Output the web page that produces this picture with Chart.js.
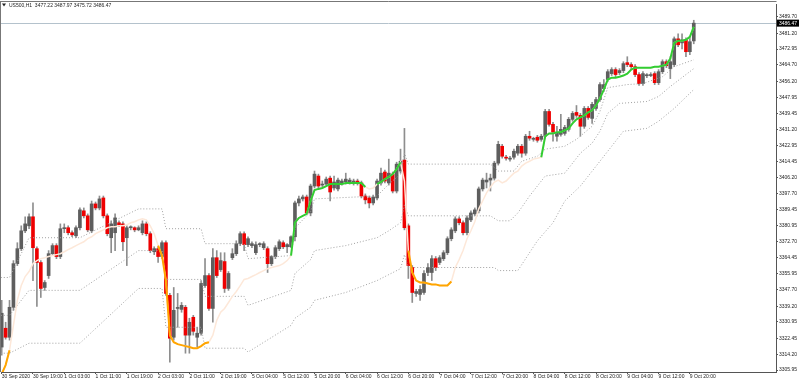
<!DOCTYPE html>
<html><head><meta charset="utf-8">
<script src="https://cdn.jsdelivr.net/npm/chart.js@4/dist/chart.umd.min.js"></script>
<style>html,body{margin:0;padding:0;background:#fff;}#wrap{width:800px;height:382px;position:relative;}canvas{display:block;}</style>
</head><body><div id="wrap"><canvas id="c" width="800" height="382"></canvas></div>
<script>
const symbolTitle = 'US500,H1';
const headerOHLC = ['3477.22', '3487.97', '3475.72', '3486.47'];
const bidPrice = 3486.47;
const timeLabels = ['30 Sep 2020','30 Sep 19:00','1 Oct 03:00','1 Oct 11:00','1 Oct 19:00','2 Oct 03:00','2 Oct 11:00','2 Oct 19:00','5 Oct 04:00','5 Oct 12:00','5 Oct 20:00','6 Oct 04:00','6 Oct 12:00','6 Oct 20:00','7 Oct 04:00','7 Oct 12:00','7 Oct 20:00','8 Oct 04:00','8 Oct 12:00','8 Oct 20:00','9 Oct 04:00','9 Oct 12:00','9 Oct 20:00'];
const barsPerLabel = 8;
const priceTicks = [3489.70,3481.20,3472.95,3464.70,3456.20,3447.95,3439.45,3431.20,3422.95,3414.45,3406.20,3397.70,3389.45,3380.95,3372.70,3364.45,3355.95,3347.70,3339.20,3330.95,3322.45,3314.20,3305.95];

const opens = [3317.9,3327.7,3323.0,3338.6,3361.3,3369.1,3378.4,3381.0,3385.7,3369.1,3361.9,3348.9,3355.1,3366.5,3370.7,3365.0,3379.5,3380.0,3377.4,3375.8,3380.0,3388.8,3386.2,3378.4,3392.4,3390.3,3395.5,3386.2,3374.8,3377.4,3382.6,3382.0,3374.8,3380.0,3380.0,3378.9,3377.4,3382.0,3376.9,3367.5,3369.1,3365.0,3372.2,3344.8,3323.0,3338.0,3337.5,3338.6,3324.1,3333.4,3323.0,3325.1,3349.9,3355.1,3338.0,3364.4,3358.2,3362.4,3348.4,3364.4,3366.5,3371.7,3376.9,3371.2,3370.7,3367.0,3371.2,3369.6,3369.1,3361.3,3365.0,3369.1,3372.2,3370.1,3370.1,3375.3,3392.9,3395.0,3396.0,3387.7,3401.7,3406.9,3402.2,3402.7,3405.8,3400.7,3400.2,3403.3,3403.8,3403.8,3403.3,3404.3,3403.3,3396.5,3395.5,3392.9,3395.5,3403.3,3409.0,3403.3,3407.9,3399.1,3409.5,3415.2,3381.0,3359.3,3345.8,3345.3,3346.3,3356.7,3356.7,3363.9,3361.9,3363.9,3367.0,3374.3,3378.4,3384.6,3382.6,3377.4,3384.1,3387.2,3388.8,3400.2,3403.8,3404.8,3405.8,3413.6,3422.4,3416.7,3415.7,3416.7,3418.8,3422.4,3418.8,3427.6,3426.0,3427.1,3426.0,3427.6,3440.5,3433.8,3427.6,3428.6,3429.1,3431.2,3436.4,3440.0,3438.5,3432.8,3442.1,3436.9,3442.1,3446.7,3452.4,3457.1,3460.2,3462.3,3460.7,3461.8,3465.9,3464.9,3463.8,3459.7,3455.0,3459.1,3459.2,3460.2,3455.5,3461.2,3466.4,3462.8,3464.9,3478.3,3476.2,3477.8,3471.6,3477.22];
const highs = [3342.2,3330.8,3342.2,3362.9,3372.2,3381.0,3385.7,3387.2,3392.9,3370.1,3362.9,3352.5,3368.1,3371.7,3371.7,3382.0,3382.0,3381.0,3378.4,3381.0,3390.3,3390.3,3387.2,3393.9,3393.4,3396.5,3396.5,3387.2,3383.6,3387.2,3383.6,3383.1,3381.0,3381.0,3380.5,3381.0,3383.6,3383.1,3377.9,3370.1,3370.1,3373.2,3373.2,3345.8,3348.9,3345.8,3341.1,3339.6,3332.9,3334.4,3328.2,3352.5,3363.9,3356.2,3369.1,3368.1,3367.0,3367.0,3357.2,3369.1,3373.2,3377.9,3377.9,3375.3,3372.7,3372.7,3372.2,3372.7,3370.1,3365.5,3370.7,3373.7,3373.2,3371.7,3375.8,3393.9,3396.5,3397.0,3397.0,3402.7,3409.5,3407.9,3404.3,3406.4,3406.9,3406.9,3405.8,3405.3,3408.4,3405.8,3405.3,3405.3,3404.3,3397.6,3396.5,3397.0,3405.3,3411.0,3410.0,3415.7,3409.0,3414.1,3420.9,3431.7,3382.0,3360.3,3347.9,3349.9,3357.7,3361.3,3365.5,3365.0,3365.5,3368.1,3375.3,3380.0,3385.7,3385.7,3383.6,3386.2,3388.8,3390.3,3401.2,3405.8,3408.4,3407.9,3414.6,3425.0,3423.4,3417.7,3417.2,3420.9,3423.4,3423.4,3428.6,3430.2,3427.1,3428.1,3428.6,3441.6,3441.6,3434.8,3432.8,3439.0,3433.3,3437.4,3440.5,3443.6,3439.5,3443.1,3443.1,3445.2,3447.8,3455.5,3457.1,3462.3,3463.3,3463.3,3462.8,3466.4,3469.0,3465.9,3464.9,3460.7,3461.2,3460.2,3460.7,3461.2,3462.3,3467.4,3467.4,3469.0,3479.3,3480.9,3480.9,3478.8,3479.3,3487.97];
const lows = [3313.7,3322.0,3321.5,3337.0,3360.3,3368.1,3377.4,3379.5,3352.5,3339.1,3343.7,3347.4,3353.6,3365.5,3363.9,3363.9,3377.4,3376.3,3375.3,3374.8,3378.9,3385.1,3377.9,3377.4,3389.3,3389.3,3385.1,3375.8,3367.0,3368.1,3380.5,3368.1,3360.3,3378.9,3377.9,3378.4,3376.3,3375.8,3367.0,3366.0,3361.9,3363.9,3344.8,3310.1,3321.5,3328.2,3336.0,3314.7,3314.7,3324.1,3317.9,3324.1,3348.9,3337.0,3330.8,3354.1,3357.2,3346.3,3347.4,3363.4,3365.5,3370.7,3368.1,3370.1,3369.6,3366.0,3370.1,3368.6,3356.7,3360.3,3363.9,3368.1,3369.1,3367.0,3369.6,3373.2,3391.4,3393.9,3386.7,3386.2,3400.7,3400.7,3401.2,3401.7,3393.9,3399.6,3399.1,3402.2,3402.7,3402.7,3402.2,3402.2,3395.5,3392.4,3390.3,3391.9,3394.5,3402.2,3403.3,3402.2,3398.1,3398.1,3408.4,3378.9,3353.6,3341.1,3344.3,3342.2,3345.3,3355.1,3352.5,3357.7,3360.8,3362.9,3366.0,3373.2,3377.4,3381.5,3376.3,3376.3,3383.1,3386.2,3387.7,3399.1,3400.7,3399.1,3404.8,3412.6,3416.2,3415.2,3414.6,3415.7,3417.7,3416.7,3417.7,3425.5,3425.0,3424.5,3425.0,3426.6,3432.8,3425.0,3425.0,3427.6,3428.1,3430.2,3435.4,3437.4,3427.6,3431.7,3436.4,3434.3,3441.1,3445.7,3450.9,3456.1,3459.2,3458.6,3459.7,3460.7,3463.8,3462.8,3458.6,3454.0,3454.0,3458.1,3458.6,3454.5,3454.5,3460.2,3463.3,3457.6,3463.8,3474.2,3473.1,3469.0,3470.0,3475.72];
const closes = [3335.5,3323.0,3338.6,3361.3,3369.1,3378.4,3382.0,3385.7,3369.6,3361.9,3348.4,3351.5,3366.5,3370.7,3365.0,3379.5,3379.7,3377.4,3376.3,3380.0,3389.3,3386.2,3378.9,3392.4,3390.3,3395.0,3386.2,3376.9,3382.0,3385.1,3381.5,3372.7,3380.0,3380.2,3378.9,3380.0,3382.0,3376.9,3368.1,3369.1,3365.0,3372.2,3345.8,3322.5,3337.0,3338.2,3339.6,3324.1,3330.8,3326.1,3325.1,3351.0,3355.1,3338.0,3364.4,3355.1,3362.9,3348.4,3356.2,3366.5,3371.7,3376.9,3371.2,3374.3,3371.7,3371.2,3371.4,3371.7,3361.3,3365.0,3369.6,3372.7,3370.1,3371.2,3375.3,3392.9,3395.0,3396.0,3387.7,3401.7,3407.9,3401.7,3402.4,3405.3,3398.6,3403.8,3404.8,3404.3,3405.3,3404.8,3404.3,3403.3,3396.5,3394.5,3392.9,3396.0,3404.3,3408.4,3404.3,3408.4,3399.1,3413.1,3414.6,3380.0,3360.3,3346.3,3346.8,3347.9,3356.2,3359.3,3363.9,3359.3,3364.4,3367.0,3374.3,3378.9,3384.6,3382.6,3377.4,3385.1,3387.7,3389.3,3400.2,3404.8,3404.8,3405.8,3413.6,3423.4,3417.2,3416.2,3416.2,3419.8,3422.4,3418.8,3427.6,3426.6,3426.2,3425.5,3427.6,3440.5,3433.8,3429.7,3429.7,3431.2,3432.2,3436.4,3439.5,3438.5,3432.8,3442.1,3437.4,3444.2,3446.7,3454.5,3454.5,3461.2,3462.3,3459.7,3461.8,3465.4,3464.9,3463.8,3459.7,3455.0,3460.2,3459.3,3459.7,3455.5,3461.2,3466.4,3464.3,3466.4,3478.3,3475.2,3477.8,3471.6,3476.8,3486.47];

const maLine = [3303.9,3308.5,3316.3,3329.2,3342.2,3349.9,3354.6,3357.2,3361.3,3362.9,3363.9,3364.4,3365.0,3365.5,3366.0,3366.5,3367.5,3368.6,3369.6,3370.7,3371.7,3372.7,3374.3,3375.3,3376.9,3377.9,3378.9,3380.0,3380.5,3380.5,3381.0,3381.0,3381.5,3382.6,3383.1,3384.1,3384.6,3384.1,3381.0,3376.9,3370.7,3365.5,3352.5,3324.1,3320.4,3319.4,3318.9,3318.4,3317.9,3317.3,3317.3,3318.4,3319.9,3320.4,3324.1,3331.8,3336.0,3338.0,3341.1,3344.3,3346.8,3349.9,3353.1,3353.6,3354.6,3355.6,3356.7,3357.7,3358.7,3359.3,3359.8,3360.3,3361.3,3362.9,3365.5,3382.6,3385.1,3386.2,3387.2,3393.9,3399.6,3400.2,3400.7,3401.7,3402.7,3402.7,3402.7,3402.7,3403.3,3403.3,3403.3,3403.3,3403.3,3401.2,3400.2,3400.7,3402.7,3403.8,3405.3,3406.4,3407.9,3410.5,3414.1,3404.3,3368.1,3356.7,3352.5,3351.5,3351.5,3351.0,3350.5,3350.5,3349.9,3349.9,3349.9,3352.0,3359.3,3363.4,3368.1,3374.3,3378.4,3383.1,3389.8,3393.9,3398.1,3401.2,3403.8,3404.8,3403.3,3404.3,3406.4,3408.4,3409.5,3412.1,3413.6,3414.6,3415.7,3416.2,3416.7,3427.6,3429.1,3429.1,3429.7,3429.7,3430.7,3431.7,3434.3,3436.4,3437.4,3438.5,3440.0,3441.1,3443.6,3447.3,3451.9,3457.1,3458.1,3458.1,3458.6,3459.2,3460.2,3462.3,3463.3,3463.3,3463.3,3463.3,3463.3,3463.8,3463.8,3464.3,3464.9,3468.0,3476.2,3477.3,3477.3,3477.8,3479.3,3484.5];
const maUpRanges = [[74,93],[96,102],[138,177]];
const maDownRanges = [[0,2],[40,53],[104,115]];

const bandABars = [-1,2,7,20,35,41,42,51,52,62,63,74,75,76,79,80,96,99,102,103,104,125,127,131,133,137,139,144,147,151,153,155,160,164,169,172,177];
const bandA = [3354.1,3354.1,3374.8,3374.8,3389.8,3389.8,3379.5,3379.5,3371.7,3371.7,3363.9,3365.5,3379.5,3382.0,3388.3,3395.0,3396.5,3402.7,3407.9,3418.8,3413.1,3413.1,3409.5,3409.5,3414.6,3417.2,3420.9,3422.4,3426.0,3432.8,3440.5,3452.9,3454.5,3455.0,3458.6,3463.8,3467.4];
const bandBBars = [-1,2,7,20,35,41,42,51,52,62,63,74,75,79,80,88,96,99,102,103,104,125,127,130,132,135,139,144,148,151,153,155,158,165,168,171,177];
const bandB = [3334.4,3334.4,3347.4,3347.4,3368.1,3368.1,3353.1,3353.1,3344.3,3344.3,3339.6,3347.4,3356.2,3363.4,3368.1,3370.7,3374.8,3378.4,3382.6,3391.9,3386.2,3386.2,3383.6,3383.6,3387.7,3396.5,3406.9,3408.4,3418.8,3424.0,3430.2,3439.5,3444.7,3445.7,3448.3,3453.5,3462.8];
const bandCBars = [-1,2,7,20,35,41,42,51,52,62,63,74,75,79,80,88,96,99,102,103,104,126,127,132,137,141,144,148,153,157,159,165,168,172,177];
const bandC = [3314.7,3314.7,3319.9,3319.9,3348.4,3348.4,3328.2,3328.2,3317.3,3317.3,3315.3,3329.2,3332.9,3338.6,3342.2,3346.3,3352.5,3355.6,3358.7,3366.0,3359.3,3359.3,3357.7,3357.7,3373.2,3382.6,3393.9,3401.7,3414.6,3425.0,3430.2,3431.7,3435.4,3442.1,3451.9];

const BULL = '#5e5e5e', BEAR = '#ee0000', WICK = '#8e8e8e';
const idx = opens.map((_, i) => i);
const bodyData = idx.map(i => ({x: i, y: [opens[i], closes[i]]}));
const wickData = idx.map(i => ({x: i, y: [lows[i], highs[i]]}));
const bodyColors = idx.map(i => closes[i] >= opens[i] ? BULL : BEAR);
const inRanges = (i, rs) => rs.some(r => i >= r[0] && i <= r[1]);
const maAll = idx.map(i => ({x: i, y: maLine[i]}));
const maUp = idx.map(i => ({x: i, y: inRanges(i, maUpRanges) ? maLine[i] : null}));
const maDown = idx.map(i => ({x: i, y: inRanges(i, maDownRanges) ? maLine[i] : null}));
const band = (xs, ys) => xs.map((x, k) => ({x: x, y: ys[k]}));

const Y_MIN = 3304.92, Y_MAX = 3496.43;
const X_MIN = -0.18, X_MAX = 198.03;
const FONT = '"Liberation Sans", Arial, sans-serif';

const overlay = {
  id: 'overlay',
  beforeDatasetsDraw(chart) {
    const {ctx, chartArea: a, scales: {y}} = chart;
    const py = Math.round(y.getPixelForValue(bidPrice)) + 0.5;
    ctx.save();
    ctx.strokeStyle = '#b4c2cc';
    ctx.lineWidth = 1;
    ctx.beginPath(); ctx.moveTo(a.left, py); ctx.lineTo(a.right, py); ctx.stroke();
    ctx.restore();
  },
  afterDraw(chart) {
    const {ctx, chartArea: a, scales: {y}} = chart;
    ctx.save();
    ctx.strokeStyle = '#777';
    ctx.lineWidth = 1;
    ctx.beginPath();
    ctx.moveTo(0, 1.5); ctx.lineTo(a.right + 0.5, 1.5);
    ctx.moveTo(0.5, 1.5); ctx.lineTo(0.5, a.bottom);
    ctx.stroke();
    ctx.fillStyle = '#222';
    ctx.beginPath(); ctx.moveTo(2, 3.5); ctx.lineTo(6, 3.5); ctx.lineTo(4, 6.5); ctx.closePath(); ctx.fill();
    ctx.font = '5px ' + FONT;
    ctx.textBaseline = 'middle';
    ctx.textAlign = 'left';
    ctx.fillText(symbolTitle + '  ' + headerOHLC.join(' '), 9, 5.5);
    const py = y.getPixelForValue(bidPrice);
    ctx.fillStyle = '#000';
    ctx.fillRect(a.right + 1, py - 3.5, 22, 7);
    ctx.fillStyle = '#fff';
    ctx.fillText(bidPrice.toFixed(2), a.right + 3, py + 0.3);
    ctx.restore();
  }
};

new Chart(document.getElementById('c'), {
  type: 'bar',
  data: {
    datasets: [
      {type: 'line', data: maUp, borderColor: '#32cd32', borderWidth: 2, pointRadius: 0, spanGaps: false, order: 0},
      {type: 'line', data: maDown, borderColor: '#ffa500', borderWidth: 2, pointRadius: 0, spanGaps: false, order: 0},
      {type: 'line', data: maAll, borderColor: '#fde8d9', borderWidth: 1.5, pointRadius: 0, order: 1},
      {type: 'line', data: band(bandABars, bandA), borderColor: '#a0a0a0', borderWidth: 1, borderDash: [1, 2], pointRadius: 0, order: 2},
      {type: 'line', data: band(bandBBars, bandB), borderColor: '#a0a0a0', borderWidth: 1, borderDash: [1, 2], pointRadius: 0, order: 2},
      {type: 'line', data: band(bandCBars, bandC), borderColor: '#a0a0a0', borderWidth: 1, borderDash: [1, 2], pointRadius: 0, order: 2},
      {data: bodyData, backgroundColor: bodyColors, borderWidth: 0, barThickness: 3, minBarLength: 1, grouped: false, order: 3},
      {data: wickData, backgroundColor: WICK, borderWidth: 0, barThickness: 1, grouped: false, order: 4}
    ]
  },
  options: {
    responsive: false,
    animation: false,
    events: [],
    layout: {padding: {top: 2, left: 1, right: 0, bottom: 0}},
    plugins: {legend: {display: false}, tooltip: {enabled: false}, title: {display: false}},
    scales: {
      x: {
        type: 'linear', min: X_MIN, max: X_MAX, offset: false,
        afterBuildTicks: s => { s.ticks = timeLabels.map((_, k) => ({value: k * barsPerLabel})); },
        afterFit: s => { s.height = 10; },
        ticks: {autoSkip: false, maxRotation: 0, align: 'start', padding: 0, color: '#222', font: {size: 5, family: FONT},
          callback: v => timeLabels[Math.round(v / barsPerLabel)]},
        grid: {drawOnChartArea: false, drawTicks: true, tickLength: 2, color: '#555', offset: false},
        border: {display: true, color: '#555'}
      },
      y: {
        type: 'linear', position: 'right', min: Y_MIN, max: Y_MAX,
        afterBuildTicks: s => { s.ticks = priceTicks.map(v => ({value: v})); },
        afterFit: s => { s.width = 24; },
        ticks: {autoSkip: false, padding: 1, color: '#222', font: {size: 5, family: FONT}, callback: v => Number(v).toFixed(2)},
        grid: {drawOnChartArea: false, drawTicks: true, tickLength: 2, color: '#555'},
        border: {display: true, color: '#555'}
      }
    }
  },
  plugins: [overlay]
});
</script></body></html>
